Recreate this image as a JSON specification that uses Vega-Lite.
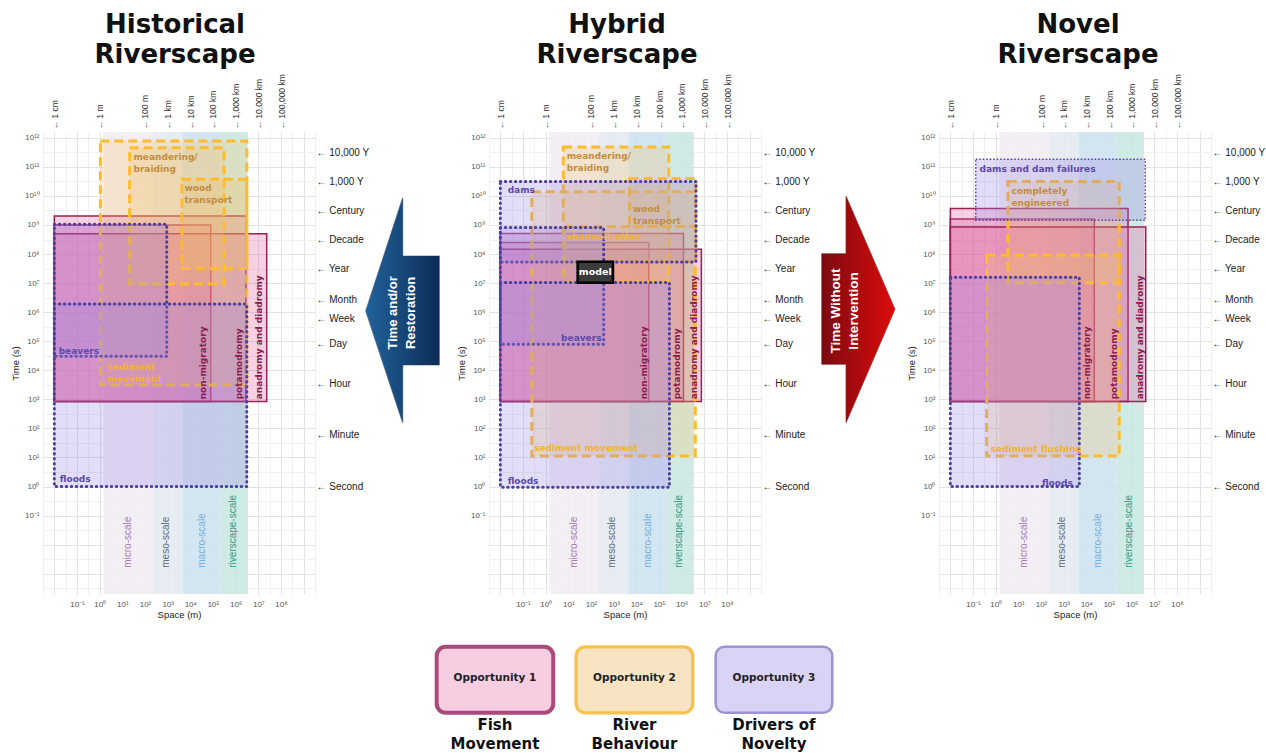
{
  "$schema": "https://vega.github.io/schema/vega-lite/v6.json",
  "padding": {"left": 10, "top": 11, "right": 0, "bottom": 0},
  "background": "white",
  "config": {
    "view": {"stroke": null},
    "axis": {"labelFont": "Liberation Sans", "titleFont": "Liberation Sans", "titleFontWeight": "normal"}
  },
  "datasets": {
    "bands": [
      {"band": "micro-scale", "x1": 1.48, "x2": 224, "y1": 0.0002, "y2": 1.585e12},
      {"band": "meso-scale", "x1": 224, "x2": 4470, "y1": 0.0002, "y2": 1.585e12},
      {"band": "macro-scale", "x1": 4470, "x2": 219000, "y1": 0.0002, "y2": 1.585e12},
      {"band": "riverscape-scale", "x1": 219000, "x2": 3390000, "y1": 0.0002, "y2": 1.585e12}
    ],
    "bandlabels": [
      {"band": "micro-scale", "x1": 11, "y1": 0.0016},
      {"band": "meso-scale", "x1": 513, "y1": 0.0016},
      {"band": "macro-scale", "x1": 19500, "y1": 0.0016},
      {"band": "riverscape-scale", "x1": 480000, "y1": 0.0016}
    ],
    "rects": [
      {"panel": "historical", "cat": "fish", "name": "non-migratory", "x1": 0.01, "x2": 79433, "y1": 850, "y2": 1e9},
      {"panel": "historical", "cat": "fish", "name": "potamodromy", "x1": 0.01, "x2": 2818000, "y1": 850, "y2": 2.04e9},
      {"panel": "historical", "cat": "fish", "name": "anadromy and diadromy", "x1": 0.01, "x2": 23440000, "y1": 850, "y2": 5.01e8},
      {"panel": "historical", "cat": "river", "name": "sediment movement", "x1": 1.07, "x2": 3100000, "y1": 3090, "y2": 7.76e11},
      {"panel": "historical", "cat": "river", "name": "meandering/braiding", "x1": 20.9, "x2": 309000, "y1": 9.33e6, "y2": 4.57e11},
      {"panel": "historical", "cat": "river", "name": "wood transport", "x1": 4266, "x2": 3100000, "y1": 3.16e7, "y2": 3.72e10},
      {"panel": "historical", "cat": "drivers", "name": "beavers", "x1": 0.01, "x2": 912, "y1": 30200, "y2": 1.07e9},
      {"panel": "historical", "cat": "drivers", "name": "floods", "x1": 0.01, "x2": 3100000, "y1": 1, "y2": 1.9e6},
      {"panel": "hybrid", "cat": "fish", "name": "non-migratory", "x1": 0.01, "x2": 35481, "y1": 850, "y2": 2.51e8},
      {"panel": "hybrid", "cat": "fish", "name": "potamodromy", "x1": 0.01, "x2": 1200000, "y1": 850, "y2": 5.13e8},
      {"panel": "hybrid", "cat": "fish", "name": "anadromy and diadromy", "x1": 0.01, "x2": 7410000, "y1": 850, "y2": 1.45e8},
      {"panel": "hybrid", "cat": "river", "name": "sediment movement", "x1": 0.245, "x2": 3980000, "y1": 11.2, "y2": 1.38e10},
      {"panel": "hybrid", "cat": "river", "name": "meandering/braiding", "x1": 6.0, "x2": 269000, "y1": 1.1e7, "y2": 4.79e11},
      {"panel": "hybrid", "cat": "river", "name": "wood transport", "x1": 5012, "x2": 4270000, "y1": 9.12e8, "y2": 3.98e10},
      {"panel": "hybrid", "cat": "river", "name": "channelization", "x1": 7.08, "x2": 4270000, "y1": 5.6e7, "y2": 8.9e8},
      {"panel": "hybrid", "cat": "drivers", "name": "dams", "x1": 0.01, "x2": 4270000, "y1": 5.37e7, "y2": 3.16e10},
      {"panel": "hybrid", "cat": "drivers", "name": "beavers", "x1": 0.01, "x2": 363, "y1": 79400, "y2": 8.13e8},
      {"panel": "hybrid", "cat": "drivers", "name": "floods", "x1": 0.01, "x2": 288000, "y1": 0.95, "y2": 1.05e7},
      {"panel": "novel", "cat": "fish", "name": "non-migratory", "x1": 0.01, "x2": 22387, "y1": 850, "y2": 1.62e9},
      {"panel": "novel", "cat": "fish", "name": "potamodromy", "x1": 0.01, "x2": 692000, "y1": 850, "y2": 3.72e9},
      {"panel": "novel", "cat": "fish", "name": "anadromy and diadromy", "x1": 0.01, "x2": 4170000, "y1": 850, "y2": 8.51e8},
      {"panel": "novel", "cat": "river", "name": "completely engineered", "x1": 3.47, "x2": 282000, "y1": 1.02e7, "y2": 3.16e10},
      {"panel": "novel", "cat": "river", "name": "sediment flushing", "x1": 0.4, "x2": 282000, "y1": 11.2, "y2": 9.12e7},
      {"panel": "novel", "cat": "drivers", "name": "floods", "x1": 0.01, "x2": 4900, "y1": 1, "y2": 1.58e7}
    ],
    "thinrects": [
      {"panel": "novel", "cat": "drivers", "name": "dams and dam failures", "x1": 0.132, "x2": 3980000, "y1": 1.45e9, "y2": 1.82e11}
    ],
    "labels": [
      {"panel": "historical", "cat": "river", "tone": "river", "text": "meandering/\nbraiding", "x1": 31, "y1": 3.1e11},
      {"panel": "historical", "cat": "river", "tone": "river", "text": "wood\ntransport", "x1": 5500, "y1": 2.5e10},
      {"panel": "historical", "cat": "river", "tone": "sediment", "text": "sediment\nmovement", "x1": 2.24, "y1": 17400},
      {"panel": "historical", "cat": "drivers", "tone": "drivers", "text": "beavers", "x1": 0.0155, "y1": 65000},
      {"panel": "historical", "cat": "drivers", "tone": "drivers", "text": "floods", "x1": 0.0174, "y1": 2.4},
      {"panel": "historical", "cat": "fish", "tone": "fish", "text": "non-migratory", "x1": 25100, "y1": 1000},
      {"panel": "historical", "cat": "fish", "tone": "fish", "text": "potamodromy", "x1": 930000, "y1": 1000},
      {"panel": "historical", "cat": "fish", "tone": "fish", "text": "anadromy and diadromy", "x1": 7100000, "y1": 1000},
      {"panel": "hybrid", "cat": "river", "tone": "river", "text": "meandering/\nbraiding", "x1": 8.5, "y1": 3.2e11},
      {"panel": "hybrid", "cat": "drivers", "tone": "drivers", "text": "dams", "x1": 0.021, "y1": 2.2e10},
      {"panel": "hybrid", "cat": "river", "tone": "river", "text": "wood\ntransport", "x1": 7080, "y1": 5e9},
      {"panel": "hybrid", "cat": "river", "tone": "sediment", "text": "channelization", "x1": 8.5, "y1": 5.1e8},
      {"panel": "hybrid", "cat": "drivers", "tone": "drivers", "text": "beavers", "x1": 4.8, "y1": 180000},
      {"panel": "hybrid", "cat": "river", "tone": "sediment", "text": "sediment movement", "x1": 0.31, "y1": 28.8},
      {"panel": "hybrid", "cat": "drivers", "tone": "drivers", "text": "floods", "x1": 0.021, "y1": 2.2},
      {"panel": "hybrid", "cat": "fish", "tone": "fish", "text": "non-migratory", "x1": 14800, "y1": 1000},
      {"panel": "hybrid", "cat": "fish", "tone": "fish", "text": "potamodromy", "x1": 430000, "y1": 1000},
      {"panel": "hybrid", "cat": "fish", "tone": "fish", "text": "anadromy and diadromy", "x1": 2300000, "y1": 1000},
      {"panel": "novel", "cat": "drivers", "tone": "drivers", "text": "dams and dam failures", "x1": 0.195, "y1": 1.12e11},
      {"panel": "novel", "cat": "river", "tone": "river", "text": "completely\nengineered", "x1": 5, "y1": 2.1e10},
      {"panel": "novel", "cat": "river", "tone": "sediment", "text": "sediment flushing", "x1": 0.6, "y1": 27.5},
      {"panel": "novel", "cat": "drivers", "tone": "drivers", "text": "floods", "x1": 110, "y1": 1.8},
      {"panel": "novel", "cat": "fish", "tone": "fish", "text": "non-migratory", "x1": 7400, "y1": 1000},
      {"panel": "novel", "cat": "fish", "tone": "fish", "text": "potamodromy", "x1": 110000, "y1": 1000},
      {"panel": "novel", "cat": "fish", "tone": "fish", "text": "anadromy and diadromy", "x1": 1600000, "y1": 1000}
    ]
  },
  "spacing": 25,
  "vconcat": [
    {
      "spacing": 0,
      "bounds": "flush",
      "hconcat": [
        {
          "width": 272,
          "height": 462,
          "title": {"text": ["Historical", "Riverscape"], "font": "DejaVu Sans", "fontSize": 26, "fontWeight": "bold", "lineHeight": 30, "color": "#111111", "anchor": "middle", "frame": "group", "offset": 6, "dx": -4},
          "encoding": {
            "x": {"field": "x1", "type": "quantitative", "scale": {"type": "log", "domain": [0.0031623, 3162277660], "nice": false}, "axis": null},
            "y": {"field": "y1", "type": "quantitative", "scale": {"type": "log", "domain": [0.0002, 1.585e12], "nice": false}, "axis": null}
          },
          "layer": [
            {
              "data": {"name": "bands"},
              "mark": {"type": "rect", "opacity": 0.85},
              "encoding": {
                "x": {"field": "x1", "type": "quantitative", "scale": {"type": "log", "domain": [0.0031623, 3162277660], "nice": false},
                  "axis": {"orient": "bottom", "title": "Space (m)", "values": [0.0031623, 0.01, 0.031623, 0.1, 0.31623, 1, 3.1623, 10, 31.623, 100, 316.23, 1000, 3162.3, 10000, 31623, 100000, 316228, 1000000, 3162278, 10000000, 31622777, 100000000, 316227766, 1000000000, 3162277660],
                    "labelExpr": "(abs(log(datum.value)/LN10 - round(log(datum.value)/LN10)) > 0.1 || round(log(datum.value)/LN10) < -1 || round(log(datum.value)/LN10) > 8) ? '' : ['10⁻¹','10⁰','10¹','10²','10³','10⁴','10⁵','10⁶','10⁷','10⁸'][round(log(datum.value)/LN10) + 1]",
                    "grid": true, "gridColor": {"condition": {"test": "abs(log(datum.value)/LN10 - round(log(datum.value)/LN10)) < 0.1", "value": "#e2e2e2"}, "value": "#f0f0f0"},
                    "ticks": false, "domain": false, "labelFontSize": 8, "labelColor": "#555555", "labelPadding": 6, "labelOverlap": false, "labelFlush": false, "titleFontSize": 9.5, "titleColor": "#222222", "titlePadding": 1}},
                "x2": {"field": "x2"},
                "y": {"field": "y1", "type": "quantitative", "scale": {"type": "log", "domain": [0.0002, 1.585e12], "nice": false},
                  "axis": {"orient": "left", "title": "Time (s)", "values": [0.00031623, 0.001, 0.0031623, 0.01, 0.031623, 0.1, 0.31623, 1, 3.1623, 10, 31.623, 100, 316.23, 1000, 3162.3, 10000, 31623, 100000, 316228, 1000000, 3162278, 10000000, 31622777, 100000000, 316227766, 1000000000, 3162277660, 10000000000, 31622776602, 100000000000, 316227766017, 1000000000000],
                    "labelExpr": "(abs(log(datum.value)/LN10 - round(log(datum.value)/LN10)) > 0.1 || round(log(datum.value)/LN10) < -1) ? '' : ['10⁻¹','10⁰','10¹','10²','10³','10⁴','10⁵','10⁶','10⁷','10⁸','10⁹','10¹⁰','10¹¹','10¹²'][round(log(datum.value)/LN10) + 1]",
                    "grid": true, "gridColor": {"condition": {"test": "abs(log(datum.value)/LN10 - round(log(datum.value)/LN10)) < 0.1", "value": "#e2e2e2"}, "value": "#f0f0f0"},
                    "ticks": false, "domain": false, "labelFontSize": 8, "labelColor": "#555555", "labelPadding": 4, "labelOverlap": false, "labelFlush": false, "titleFontSize": 9.5, "titleColor": "#222222", "titlePadding": 4}},
                "y2": {"field": "y2"},
                "fill": {"field": "band", "type": "nominal", "scale": {"domain": ["micro-scale", "meso-scale", "macro-scale", "riverscape-scale"], "range": ["#f2ecf3", "#e4eaf1", "#cde2ee", "#c8e7e2"]}, "legend": null}
              }
            },
            {
              "data": {"name": "rects"},
              "transform": [{"filter": "datum.panel == 'historical' && datum.cat == 'fish'"}],
              "mark": {"type": "rect", "fill": "#e0569b", "fillOpacity": 0.28, "stroke": "#9c1f55", "strokeWidth": 1.5},
              "encoding": {
                "x": {"field": "x1", "type": "quantitative", "scale": {"type": "log", "domain": [0.0031623, 3162277660], "nice": false},
                  "axis": {"orient": "top", "title": null, "values": [0.01, 1, 100, 1000, 10000, 100000, 1000000, 10000000, 100000000],
                    "labelExpr": "datum.value < 0.1 ? '← 1 cm' : datum.value < 10 ? '← 1 m' : datum.value < 500 ? '← 100 m' : datum.value < 5000 ? '← 1 km' : datum.value < 50000 ? '← 10 km' : datum.value < 500000 ? '← 100 km' : datum.value < 5000000 ? '← 1,000 km' : datum.value < 50000000 ? '← 10,000 km' : '← 100,000 km'",
                    "labelAngle": 270, "labelAlign": "left", "labelBaseline": "middle", "grid": false, "ticks": false, "domain": false, "labelFontSize": 8.5, "labelColor": "#333333", "labelPadding": 3, "labelOverlap": false, "labelFlush": false}},
                "x2": {"field": "x2"},
                "y": {"field": "y1", "type": "quantitative", "scale": {"type": "log", "domain": [0.0002, 1.585e12], "nice": false},
                  "axis": {"orient": "right", "title": null, "values": [1, 60, 3600, 86400, 604800, 2629800, 31557600, 315576000, 3155760000, 31557600000, 315576000000],
                    "labelExpr": "datum.value > 1e11 ? '← 10,000 Y' : datum.value > 1e10 ? '← 1,000 Y' : datum.value > 1e9 ? '← Century' : datum.value > 1e8 ? '← Decade' : datum.value > 1e7 ? '← Year' : datum.value > 1e6 ? '← Month' : datum.value > 2e5 ? '← Week' : datum.value > 1e4 ? '← Day' : datum.value > 1000 ? '← Hour' : datum.value > 10 ? '← Minute' : '← Second'",
                    "grid": false, "ticks": false, "domain": false, "labelFontSize": 10, "labelColor": "#222222", "labelPadding": 1, "labelOverlap": false, "labelFlush": false}},
                "y2": {"field": "y2"}
              }
            },
            {
              "data": {"name": "rects"},
              "transform": [{"filter": "datum.panel == 'historical' && datum.cat == 'river'"}],
              "mark": {"type": "rect", "fill": "#f4c060", "fillOpacity": 0.25, "stroke": "#fdbb2d", "strokeWidth": 3, "strokeDash": [9, 5]},
              "encoding": {"x2": {"field": "x2"}, "y2": {"field": "y2"}}
            },
            {
              "data": {"name": "rects"},
              "transform": [{"filter": "datum.panel == 'historical' && datum.cat == 'drivers'"}],
              "mark": {"type": "rect", "fill": "#9a8ae6", "fillOpacity": 0.28, "stroke": "#4c3f9f", "strokeWidth": 3, "strokeDash": [0.5, 4.5], "strokeCap": "round"},
              "encoding": {"x2": {"field": "x2"}, "y2": {"field": "y2"}}
            },
            {
              "data": {"name": "bandlabels"},
              "mark": {"type": "text", "angle": 270, "align": "left", "baseline": "top", "font": "Liberation Sans", "fontSize": 10},
              "encoding": {
                "text": {"field": "band"},
                "color": {"field": "band", "type": "nominal", "scale": {"domain": ["micro-scale", "meso-scale", "macro-scale", "riverscape-scale"], "range": ["#a678ad", "#5f6b7d", "#74aedb", "#2b9a8a"]}, "legend": null}
              }
            },
            {
              "data": {"name": "labels"},
              "transform": [{"filter": "datum.panel == 'historical' && datum.cat != 'fish'"}],
              "mark": {"type": "text", "align": "left", "baseline": "top", "font": "DejaVu Sans", "fontSize": 9, "fontWeight": "bold", "lineBreak": "\n", "lineHeight": 12},
              "encoding": {
                "text": {"field": "text"},
                "color": {"field": "tone", "type": "nominal", "scale": {"domain": ["river", "sediment", "drivers"], "range": ["#c28d3c", "#f2b32e", "#5a4aa8"]}, "legend": null}
              }
            },
            {
              "data": {"name": "labels"},
              "transform": [{"filter": "datum.panel == 'historical' && datum.cat == 'fish'"}],
              "mark": {"type": "text", "angle": 270, "align": "left", "baseline": "top", "font": "DejaVu Sans", "fontSize": 9, "fontWeight": "bold", "color": "#8c1c50"},
              "encoding": {"text": {"field": "text"}}
            }
          ],
          "resolve": {"axis": {"x": "independent", "y": "independent"}, "scale": {"color": "independent", "fill": "independent"}}
        },
        {
          "width": 174,
          "height": 462,
          "data": {"values": [{"x": 87.5, "y": 178.2, "tx": 78, "ty": 181, "text": "Time and/or\nRestoration"}]},
          "encoding": {
            "x": {"field": "x", "type": "quantitative", "scale": {"domain": [0, 174]}, "axis": null},
            "y": {"field": "y", "type": "quantitative", "scale": {"domain": [0, 462], "reverse": true}, "axis": null}
          },
          "layer": [
            {
              "mark": {"type": "point", "shape": "M -0.327 0.007 L 0.002 -1 L 0.002 -0.482 L 0.327 -0.482 L 0.327 0.487 L 0.002 0.487 L 0.002 1 Z", "size": 50625, "filled": true, "fill": "#174a7e", "stroke": "#9a9a9a", "strokeWidth": 1.2, "opacity": 1}
            },
            {
              "mark": {"type": "point", "shape": "M -0.327 0.007 L 0.002 -1 L 0.002 -0.482 L 0.327 -0.482 L 0.327 0.487 L 0.002 0.487 L 0.002 1 Z", "size": 50625, "filled": true, "opacity": 1,
                "fill": {"gradient": "linear", "x1": 0, "y1": 0, "x2": 1, "y2": 0, "stops": [{"offset": 0, "color": "#22629c"}, {"offset": 1, "color": "#0c2c55"}]}}
            },
            {
              "mark": {"type": "text", "lineBreak": "\n", "angle": 270, "align": "center", "baseline": "middle", "font": "Liberation Sans", "fontSize": 13, "fontWeight": "bold", "lineHeight": 18, "color": "white"},
              "encoding": {
                "x": {"field": "tx", "type": "quantitative", "scale": {"domain": [0, 174]}, "axis": null},
                "y": {"field": "ty", "type": "quantitative", "scale": {"domain": [0, 462], "reverse": true}, "axis": null},
                "text": {"field": "text"}
              }
            }
          ]
        },
        {
          "width": 272,
          "height": 462,
          "title": {"text": ["Hybrid", "Riverscape"], "font": "DejaVu Sans", "fontSize": 26, "fontWeight": "bold", "lineHeight": 30, "color": "#111111", "anchor": "middle", "frame": "group", "offset": 6, "dx": -8},
          "encoding": {
            "x": {"field": "x1", "type": "quantitative", "scale": {"type": "log", "domain": [0.0031623, 3162277660], "nice": false}, "axis": null},
            "y": {"field": "y1", "type": "quantitative", "scale": {"type": "log", "domain": [0.0002, 1.585e12], "nice": false}, "axis": null}
          },
          "layer": [
            {
              "data": {"name": "bands"},
              "mark": {"type": "rect", "opacity": 0.85},
              "encoding": {
                "x": {"field": "x1", "type": "quantitative", "scale": {"type": "log", "domain": [0.0031623, 3162277660], "nice": false},
                  "axis": {"orient": "bottom", "title": "Space (m)", "values": [0.0031623, 0.01, 0.031623, 0.1, 0.31623, 1, 3.1623, 10, 31.623, 100, 316.23, 1000, 3162.3, 10000, 31623, 100000, 316228, 1000000, 3162278, 10000000, 31622777, 100000000, 316227766, 1000000000, 3162277660],
                    "labelExpr": "(abs(log(datum.value)/LN10 - round(log(datum.value)/LN10)) > 0.1 || round(log(datum.value)/LN10) < -1 || round(log(datum.value)/LN10) > 8) ? '' : ['10⁻¹','10⁰','10¹','10²','10³','10⁴','10⁵','10⁶','10⁷','10⁸'][round(log(datum.value)/LN10) + 1]",
                    "grid": true, "gridColor": {"condition": {"test": "abs(log(datum.value)/LN10 - round(log(datum.value)/LN10)) < 0.1", "value": "#e2e2e2"}, "value": "#f0f0f0"},
                    "ticks": false, "domain": false, "labelFontSize": 8, "labelColor": "#555555", "labelPadding": 6, "labelOverlap": false, "labelFlush": false, "titleFontSize": 9.5, "titleColor": "#222222", "titlePadding": 1}},
                "x2": {"field": "x2"},
                "y": {"field": "y1", "type": "quantitative", "scale": {"type": "log", "domain": [0.0002, 1.585e12], "nice": false},
                  "axis": {"orient": "left", "title": "Time (s)", "values": [0.00031623, 0.001, 0.0031623, 0.01, 0.031623, 0.1, 0.31623, 1, 3.1623, 10, 31.623, 100, 316.23, 1000, 3162.3, 10000, 31623, 100000, 316228, 1000000, 3162278, 10000000, 31622777, 100000000, 316227766, 1000000000, 3162277660, 10000000000, 31622776602, 100000000000, 316227766017, 1000000000000],
                    "labelExpr": "(abs(log(datum.value)/LN10 - round(log(datum.value)/LN10)) > 0.1 || round(log(datum.value)/LN10) < -1) ? '' : ['10⁻¹','10⁰','10¹','10²','10³','10⁴','10⁵','10⁶','10⁷','10⁸','10⁹','10¹⁰','10¹¹','10¹²'][round(log(datum.value)/LN10) + 1]",
                    "grid": true, "gridColor": {"condition": {"test": "abs(log(datum.value)/LN10 - round(log(datum.value)/LN10)) < 0.1", "value": "#e2e2e2"}, "value": "#f0f0f0"},
                    "ticks": false, "domain": false, "labelFontSize": 8, "labelColor": "#555555", "labelPadding": 4, "labelOverlap": false, "labelFlush": false, "titleFontSize": 9.5, "titleColor": "#222222", "titlePadding": 4}},
                "y2": {"field": "y2"},
                "fill": {"field": "band", "type": "nominal", "scale": {"domain": ["micro-scale", "meso-scale", "macro-scale", "riverscape-scale"], "range": ["#f2ecf3", "#e4eaf1", "#cde2ee", "#c8e7e2"]}, "legend": null}
              }
            },
            {
              "data": {"name": "rects"},
              "transform": [{"filter": "datum.panel == 'hybrid' && datum.cat == 'fish'"}],
              "mark": {"type": "rect", "fill": "#e0569b", "fillOpacity": 0.28, "stroke": "#9c1f55", "strokeWidth": 1.5},
              "encoding": {
                "x": {"field": "x1", "type": "quantitative", "scale": {"type": "log", "domain": [0.0031623, 3162277660], "nice": false},
                  "axis": {"orient": "top", "title": null, "values": [0.01, 1, 100, 1000, 10000, 100000, 1000000, 10000000, 100000000],
                    "labelExpr": "datum.value < 0.1 ? '← 1 cm' : datum.value < 10 ? '← 1 m' : datum.value < 500 ? '← 100 m' : datum.value < 5000 ? '← 1 km' : datum.value < 50000 ? '← 10 km' : datum.value < 500000 ? '← 100 km' : datum.value < 5000000 ? '← 1,000 km' : datum.value < 50000000 ? '← 10,000 km' : '← 100,000 km'",
                    "labelAngle": 270, "labelAlign": "left", "labelBaseline": "middle", "grid": false, "ticks": false, "domain": false, "labelFontSize": 8.5, "labelColor": "#333333", "labelPadding": 3, "labelOverlap": false, "labelFlush": false}},
                "x2": {"field": "x2"},
                "y": {"field": "y1", "type": "quantitative", "scale": {"type": "log", "domain": [0.0002, 1.585e12], "nice": false},
                  "axis": {"orient": "right", "title": null, "values": [1, 60, 3600, 86400, 604800, 2629800, 31557600, 315576000, 3155760000, 31557600000, 315576000000],
                    "labelExpr": "datum.value > 1e11 ? '← 10,000 Y' : datum.value > 1e10 ? '← 1,000 Y' : datum.value > 1e9 ? '← Century' : datum.value > 1e8 ? '← Decade' : datum.value > 1e7 ? '← Year' : datum.value > 1e6 ? '← Month' : datum.value > 2e5 ? '← Week' : datum.value > 1e4 ? '← Day' : datum.value > 1000 ? '← Hour' : datum.value > 10 ? '← Minute' : '← Second'",
                    "grid": false, "ticks": false, "domain": false, "labelFontSize": 10, "labelColor": "#222222", "labelPadding": 1, "labelOverlap": false, "labelFlush": false}},
                "y2": {"field": "y2"}
              }
            },
            {
              "data": {"name": "rects"},
              "transform": [{"filter": "datum.panel == 'hybrid' && datum.cat == 'river'"}],
              "mark": {"type": "rect", "fill": "#f4c060", "fillOpacity": 0.25, "stroke": "#fdbb2d", "strokeWidth": 3, "strokeDash": [9, 5]},
              "encoding": {"x2": {"field": "x2"}, "y2": {"field": "y2"}}
            },
            {
              "data": {"name": "rects"},
              "transform": [{"filter": "datum.panel == 'hybrid' && datum.cat == 'drivers'"}],
              "mark": {"type": "rect", "fill": "#9a8ae6", "fillOpacity": 0.28, "stroke": "#4c3f9f", "strokeWidth": 3, "strokeDash": [0.5, 4.5], "strokeCap": "round"},
              "encoding": {"x2": {"field": "x2"}, "y2": {"field": "y2"}}
            },
            {
              "data": {"values": [{"x1": 25.7, "x2": 933, "y1": 1.02e7, "y2": 5.4e7, "xc": 155, "yc": 2.34e7, "text": "model"}]},
              "mark": {"type": "rect", "fill": "#3b3b3b", "stroke": "#000000", "strokeWidth": 2.5},
              "encoding": {"x2": {"field": "x2"}, "y2": {"field": "y2"}}
            },
            {
              "data": {"values": [{"x1": 25.7, "x2": 933, "y1": 1.02e7, "y2": 5.4e7, "xc": 155, "yc": 2.34e7, "text": "model"}]},
              "mark": {"type": "text", "align": "center", "baseline": "middle", "font": "DejaVu Sans", "fontSize": 9.5, "fontWeight": "bold", "color": "white"},
              "encoding": {
                "x": {"field": "xc", "type": "quantitative", "scale": {"type": "log", "domain": [0.0031623, 3162277660], "nice": false}, "axis": null},
                "y": {"field": "yc", "type": "quantitative", "scale": {"type": "log", "domain": [0.0002, 1.585e12], "nice": false}, "axis": null},
                "text": {"field": "text"}
              }
            },
            {
              "data": {"name": "bandlabels"},
              "mark": {"type": "text", "angle": 270, "align": "left", "baseline": "top", "font": "Liberation Sans", "fontSize": 10},
              "encoding": {
                "text": {"field": "band"},
                "color": {"field": "band", "type": "nominal", "scale": {"domain": ["micro-scale", "meso-scale", "macro-scale", "riverscape-scale"], "range": ["#a678ad", "#5f6b7d", "#74aedb", "#2b9a8a"]}, "legend": null}
              }
            },
            {
              "data": {"name": "labels"},
              "transform": [{"filter": "datum.panel == 'hybrid' && datum.cat != 'fish'"}],
              "mark": {"type": "text", "align": "left", "baseline": "top", "font": "DejaVu Sans", "fontSize": 9, "fontWeight": "bold", "lineBreak": "\n", "lineHeight": 12},
              "encoding": {
                "text": {"field": "text"},
                "color": {"field": "tone", "type": "nominal", "scale": {"domain": ["river", "sediment", "drivers"], "range": ["#c28d3c", "#f2b32e", "#5a4aa8"]}, "legend": null}
              }
            },
            {
              "data": {"name": "labels"},
              "transform": [{"filter": "datum.panel == 'hybrid' && datum.cat == 'fish'"}],
              "mark": {"type": "text", "angle": 270, "align": "left", "baseline": "top", "font": "DejaVu Sans", "fontSize": 9, "fontWeight": "bold", "color": "#8c1c50"},
              "encoding": {"text": {"field": "text"}}
            }
          ],
          "resolve": {"axis": {"x": "independent", "y": "independent"}, "scale": {"color": "independent", "fill": "independent"}}
        },
        {
          "width": 177.5,
          "height": 462,
          "data": {"values": [{"x": 97.35, "y": 177.35, "tx": 75, "ty": 179, "text": "Time Without\nIntervention"}]},
          "encoding": {
            "x": {"field": "x", "type": "quantitative", "scale": {"domain": [0, 177.5]}, "axis": null},
            "y": {"field": "y", "type": "quantitative", "scale": {"domain": [0, 462], "reverse": true}, "axis": null}
          },
          "layer": [
            {
              "mark": {"type": "point", "shape": "M -0.323 -0.491 L -0.109 -0.491 L -0.109 -1 L 0.323 0 L -0.109 1 L -0.109 0.485 L -0.323 0.485 Z", "size": 51393, "filled": true, "fill": "#b8080c", "stroke": "#9a9a9a", "strokeWidth": 1.2, "opacity": 1}
            },
            {
              "mark": {"type": "point", "shape": "M -0.323 -0.491 L -0.109 -0.491 L -0.109 -1 L 0.323 0 L -0.109 1 L -0.109 0.485 L -0.323 0.485 Z", "size": 51393, "filled": true, "opacity": 1,
                "fill": {"gradient": "linear", "x1": 0, "y1": 0, "x2": 1, "y2": 0, "stops": [{"offset": 0, "color": "#7c0a10"}, {"offset": 1, "color": "#dc0b0b"}]}}
            },
            {
              "mark": {"type": "text", "lineBreak": "\n", "angle": 270, "align": "center", "baseline": "middle", "font": "Liberation Sans", "fontSize": 13.5, "fontWeight": "bold", "lineHeight": 18, "color": "white"},
              "encoding": {
                "x": {"field": "tx", "type": "quantitative", "scale": {"domain": [0, 177.5]}, "axis": null},
                "y": {"field": "ty", "type": "quantitative", "scale": {"domain": [0, 462], "reverse": true}, "axis": null},
                "text": {"field": "text"}
              }
            }
          ]
        },
        {
          "width": 272,
          "height": 462,
          "title": {"text": ["Novel", "Riverscape"], "font": "DejaVu Sans", "fontSize": 26, "fontWeight": "bold", "lineHeight": 30, "color": "#111111", "anchor": "middle", "frame": "group", "offset": 6, "dx": 3},
          "encoding": {
            "x": {"field": "x1", "type": "quantitative", "scale": {"type": "log", "domain": [0.0031623, 3162277660], "nice": false}, "axis": null},
            "y": {"field": "y1", "type": "quantitative", "scale": {"type": "log", "domain": [0.0002, 1.585e12], "nice": false}, "axis": null}
          },
          "layer": [
            {
              "data": {"name": "bands"},
              "mark": {"type": "rect", "opacity": 0.85},
              "encoding": {
                "x": {"field": "x1", "type": "quantitative", "scale": {"type": "log", "domain": [0.0031623, 3162277660], "nice": false},
                  "axis": {"orient": "bottom", "title": "Space (m)", "values": [0.0031623, 0.01, 0.031623, 0.1, 0.31623, 1, 3.1623, 10, 31.623, 100, 316.23, 1000, 3162.3, 10000, 31623, 100000, 316228, 1000000, 3162278, 10000000, 31622777, 100000000, 316227766, 1000000000, 3162277660],
                    "labelExpr": "(abs(log(datum.value)/LN10 - round(log(datum.value)/LN10)) > 0.1 || round(log(datum.value)/LN10) < -1 || round(log(datum.value)/LN10) > 8) ? '' : ['10⁻¹','10⁰','10¹','10²','10³','10⁴','10⁵','10⁶','10⁷','10⁸'][round(log(datum.value)/LN10) + 1]",
                    "grid": true, "gridColor": {"condition": {"test": "abs(log(datum.value)/LN10 - round(log(datum.value)/LN10)) < 0.1", "value": "#e2e2e2"}, "value": "#f0f0f0"},
                    "ticks": false, "domain": false, "labelFontSize": 8, "labelColor": "#555555", "labelPadding": 6, "labelOverlap": false, "labelFlush": false, "titleFontSize": 9.5, "titleColor": "#222222", "titlePadding": 1}},
                "x2": {"field": "x2"},
                "y": {"field": "y1", "type": "quantitative", "scale": {"type": "log", "domain": [0.0002, 1.585e12], "nice": false},
                  "axis": {"orient": "left", "title": "Time (s)", "values": [0.00031623, 0.001, 0.0031623, 0.01, 0.031623, 0.1, 0.31623, 1, 3.1623, 10, 31.623, 100, 316.23, 1000, 3162.3, 10000, 31623, 100000, 316228, 1000000, 3162278, 10000000, 31622777, 100000000, 316227766, 1000000000, 3162277660, 10000000000, 31622776602, 100000000000, 316227766017, 1000000000000],
                    "labelExpr": "(abs(log(datum.value)/LN10 - round(log(datum.value)/LN10)) > 0.1 || round(log(datum.value)/LN10) < -1) ? '' : ['10⁻¹','10⁰','10¹','10²','10³','10⁴','10⁵','10⁶','10⁷','10⁸','10⁹','10¹⁰','10¹¹','10¹²'][round(log(datum.value)/LN10) + 1]",
                    "grid": true, "gridColor": {"condition": {"test": "abs(log(datum.value)/LN10 - round(log(datum.value)/LN10)) < 0.1", "value": "#e2e2e2"}, "value": "#f0f0f0"},
                    "ticks": false, "domain": false, "labelFontSize": 8, "labelColor": "#555555", "labelPadding": 4, "labelOverlap": false, "labelFlush": false, "titleFontSize": 9.5, "titleColor": "#222222", "titlePadding": 4}},
                "y2": {"field": "y2"},
                "fill": {"field": "band", "type": "nominal", "scale": {"domain": ["micro-scale", "meso-scale", "macro-scale", "riverscape-scale"], "range": ["#f2ecf3", "#e4eaf1", "#cde2ee", "#c8e7e2"]}, "legend": null}
              }
            },
            {
              "data": {"name": "rects"},
              "transform": [{"filter": "datum.panel == 'novel' && datum.cat == 'fish'"}],
              "mark": {"type": "rect", "fill": "#e0569b", "fillOpacity": 0.28, "stroke": "#9c1f55", "strokeWidth": 1.5},
              "encoding": {
                "x": {"field": "x1", "type": "quantitative", "scale": {"type": "log", "domain": [0.0031623, 3162277660], "nice": false},
                  "axis": {"orient": "top", "title": null, "values": [0.01, 1, 100, 1000, 10000, 100000, 1000000, 10000000, 100000000],
                    "labelExpr": "datum.value < 0.1 ? '← 1 cm' : datum.value < 10 ? '← 1 m' : datum.value < 500 ? '← 100 m' : datum.value < 5000 ? '← 1 km' : datum.value < 50000 ? '← 10 km' : datum.value < 500000 ? '← 100 km' : datum.value < 5000000 ? '← 1,000 km' : datum.value < 50000000 ? '← 10,000 km' : '← 100,000 km'",
                    "labelAngle": 270, "labelAlign": "left", "labelBaseline": "middle", "grid": false, "ticks": false, "domain": false, "labelFontSize": 8.5, "labelColor": "#333333", "labelPadding": 3, "labelOverlap": false, "labelFlush": false}},
                "x2": {"field": "x2"},
                "y": {"field": "y1", "type": "quantitative", "scale": {"type": "log", "domain": [0.0002, 1.585e12], "nice": false},
                  "axis": {"orient": "right", "title": null, "values": [1, 60, 3600, 86400, 604800, 2629800, 31557600, 315576000, 3155760000, 31557600000, 315576000000],
                    "labelExpr": "datum.value > 1e11 ? '← 10,000 Y' : datum.value > 1e10 ? '← 1,000 Y' : datum.value > 1e9 ? '← Century' : datum.value > 1e8 ? '← Decade' : datum.value > 1e7 ? '← Year' : datum.value > 1e6 ? '← Month' : datum.value > 2e5 ? '← Week' : datum.value > 1e4 ? '← Day' : datum.value > 1000 ? '← Hour' : datum.value > 10 ? '← Minute' : '← Second'",
                    "grid": false, "ticks": false, "domain": false, "labelFontSize": 10, "labelColor": "#222222", "labelPadding": 1, "labelOverlap": false, "labelFlush": false}},
                "y2": {"field": "y2"}
              }
            },
            {
              "data": {"name": "rects"},
              "transform": [{"filter": "datum.panel == 'novel' && datum.cat == 'river'"}],
              "mark": {"type": "rect", "fill": "#f4c060", "fillOpacity": 0.25, "stroke": "#fdbb2d", "strokeWidth": 3, "strokeDash": [9, 5]},
              "encoding": {"x2": {"field": "x2"}, "y2": {"field": "y2"}}
            },
            {
              "data": {"name": "rects"},
              "transform": [{"filter": "datum.panel == 'novel' && datum.cat == 'drivers'"}],
              "mark": {"type": "rect", "fill": "#9a8ae6", "fillOpacity": 0.28, "stroke": "#4c3f9f", "strokeWidth": 3, "strokeDash": [0.5, 4.5], "strokeCap": "round"},
              "encoding": {"x2": {"field": "x2"}, "y2": {"field": "y2"}}
            },
            {
              "data": {"name": "thinrects"},
              "mark": {"type": "rect", "fill": "#9a8ae6", "fillOpacity": 0.3, "stroke": "#4c3f9f", "strokeWidth": 1.5, "strokeDash": [1.5, 2]},
              "encoding": {"x2": {"field": "x2"}, "y2": {"field": "y2"}}
            },
            {
              "data": {"name": "bandlabels"},
              "mark": {"type": "text", "angle": 270, "align": "left", "baseline": "top", "font": "Liberation Sans", "fontSize": 10},
              "encoding": {
                "text": {"field": "band"},
                "color": {"field": "band", "type": "nominal", "scale": {"domain": ["micro-scale", "meso-scale", "macro-scale", "riverscape-scale"], "range": ["#a678ad", "#5f6b7d", "#74aedb", "#2b9a8a"]}, "legend": null}
              }
            },
            {
              "data": {"name": "labels"},
              "transform": [{"filter": "datum.panel == 'novel' && datum.cat != 'fish'"}],
              "mark": {"type": "text", "align": "left", "baseline": "top", "font": "DejaVu Sans", "fontSize": 9, "fontWeight": "bold", "lineBreak": "\n", "lineHeight": 12},
              "encoding": {
                "text": {"field": "text"},
                "color": {"field": "tone", "type": "nominal", "scale": {"domain": ["river", "sediment", "drivers"], "range": ["#c28d3c", "#f2b32e", "#5a4aa8"]}, "legend": null}
              }
            },
            {
              "data": {"name": "labels"},
              "transform": [{"filter": "datum.panel == 'novel' && datum.cat == 'fish'"}],
              "mark": {"type": "text", "angle": 270, "align": "left", "baseline": "top", "font": "DejaVu Sans", "fontSize": 9, "fontWeight": "bold", "color": "#8c1c50"},
              "encoding": {"text": {"field": "text"}}
            }
          ],
          "resolve": {"axis": {"x": "independent", "y": "independent"}, "scale": {"color": "independent", "fill": "independent"}}
        }
      ]
    },
    {
      "width": 1168,
      "height": 113,
      "data": {"values": [
        {"i": 1, "label": "Opportunity 1", "caption": "Fish\nMovement", "cat": "fish"},
        {"i": 2, "label": "Opportunity 2", "caption": "River\nBehaviour", "cat": "river"},
        {"i": 3, "label": "Opportunity 3", "caption": "Drivers of\nNovelty", "cat": "drivers"}
      ]},
      "encoding": {
        "x": {"field": "i", "type": "quantitative", "scale": {"domain": [-2.24, 6.133]}, "axis": null}
      },
      "layer": [
        {
          "mark": {"type": "rect", "width": 116.6, "height": 66, "cornerRadius": 9},
          "encoding": {
            "y": {"datum": 37, "type": "quantitative", "scale": {"domain": [0, 113], "reverse": true}, "axis": null},
            "fill": {"field": "cat", "type": "nominal", "scale": {"domain": ["fish", "river", "drivers"], "range": ["#f7cde2", "#f8e3c2", "#d9d3f5"]}, "legend": null},
            "stroke": {"field": "cat", "type": "nominal", "scale": {"domain": ["fish", "river", "drivers"], "range": ["#a94a7c", "#f6c24c", "#9d93d3"]}, "legend": null},
            "strokeWidth": {"field": "cat", "type": "ordinal", "scale": {"domain": ["fish", "river", "drivers"], "range": [4, 2.5, 4.5]}, "legend": null},
            "strokeDash": {"field": "cat", "type": "nominal", "scale": {"domain": ["fish", "river", "drivers"], "range": [[1, 0], [8, 4], [3.5, 3]]}, "legend": null}
          }
        },
        {
          "mark": {"type": "text", "align": "center", "baseline": "middle", "font": "DejaVu Sans", "fontSize": 10.5, "fontWeight": "bold", "color": "#222222"},
          "encoding": {
            "y": {"datum": 35, "type": "quantitative"},
            "text": {"field": "label"}
          }
        },
        {
          "mark": {"type": "text", "align": "center", "baseline": "alphabetic", "font": "DejaVu Sans", "fontSize": 15, "fontWeight": "bold", "color": "#111111", "lineBreak": "\n", "lineHeight": 19},
          "encoding": {
            "y": {"datum": 90, "type": "quantitative"},
            "text": {"field": "caption"}
          }
        }
      ]
    }
  ]
}
